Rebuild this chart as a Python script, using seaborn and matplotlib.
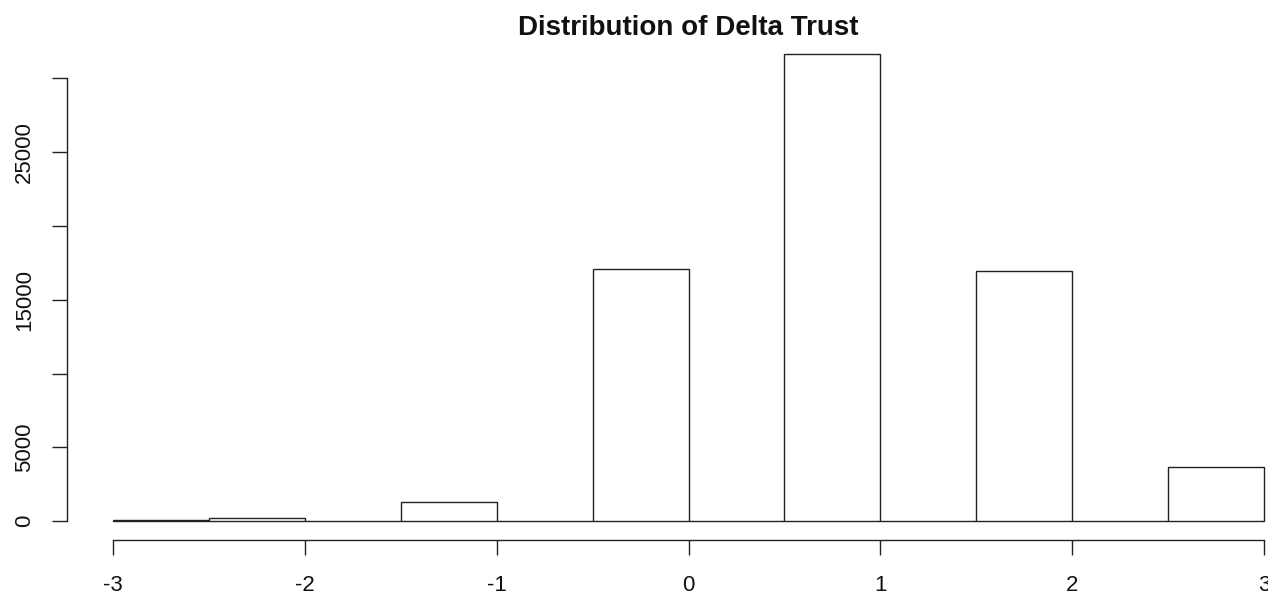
import numpy as np
import matplotlib
matplotlib.use("Agg")
import matplotlib.pyplot as plt
import seaborn as sns

# histogram bins (width 0.5) and counts
bin_edges = [-3.0, -2.5, -2.0, -1.5, -1.0, -0.5, 0.0, 0.5, 1.0, 1.5, 2.0, 2.5, 3.0]
counts = [68, 190, 0, 1290, 0, 17080, 0, 31660, 0, 16950, 0, 3660]
y_ticks = [0, 5000, 10000, 15000, 20000, 25000, 30000]
y_labels = ["0", "5000", "", "15000", "", "25000", ""]
x_ticks = [-3, -2, -1, 0, 1, 2, 3]

sns.set_theme(style="white")
plt.rcParams["font.family"] = ["Liberation Sans", "DejaVu Sans"]

fig = plt.figure(figsize=(12.68, 5.98), dpi=100)
# axes left at 67px, bottom at 540px, top at 35px; extends past right edge like the original
ax = fig.add_axes([67 / 1268, (598 - 540) / 598, 1243 / 1268, (540 - 35) / 598])

centers = [(a + b) / 2 for a, b in zip(bin_edges[:-1], bin_edges[1:])]
sns.histplot(x=centers, weights=counts, bins=bin_edges, ax=ax,
             color="white", edgecolor="#222222", linewidth=1.0, alpha=1.0)

ax.set_xlim(-3.24, 3.24)
ax.set_ylim(-0.04 * max(counts), 1.04 * max(counts))

ax.set_yticks(y_ticks)
ax.set_yticklabels(y_labels, rotation=90, va="center")
ax.set_xticks(x_ticks)
ax.set_xticklabels([str(t) for t in x_ticks])

for s in ["top", "right"]:
    ax.spines[s].set_visible(False)
ax.spines["left"].set_bounds(0, 30000)
ax.spines["bottom"].set_bounds(-3, 3)
for s in ["left", "bottom"]:
    ax.spines[s].set_color("#222222")
    ax.spines[s].set_linewidth(1.0)

ax.tick_params(axis="both", which="both", direction="out", length=11, width=1.0,
               color="#222222", labelsize=16, labelcolor="#111111",
               left=True, bottom=True)
ax.tick_params(axis="x", pad=14)
ax.tick_params(axis="y", pad=12)
ax.set_xlabel("")
ax.set_ylabel("")
ax.grid(False)

ax.set_title("Distribution of Delta Trust", fontsize=20, fontweight="bold", pad=0,
             color="#111111", y=1.0)

fig.savefig("out.png", dpi=100)
